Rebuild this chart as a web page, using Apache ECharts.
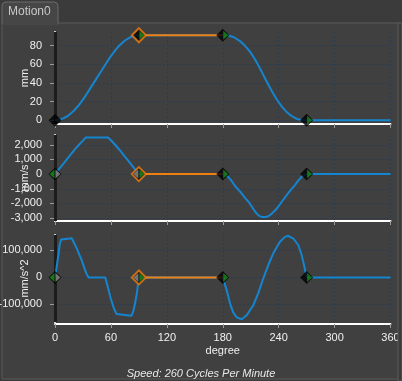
<!DOCTYPE html>
<html><head><meta charset="utf-8">
<script src="https://cdn.jsdelivr.net/npm/echarts@6/dist/echarts.min.js"></script>
<style>html,body{margin:0;padding:0;background:#3b3b3b;}#c{width:402px;height:381px;}</style>
</head><body><div id="c"></div>
<script>
// ---------- data ----------
const degTicks = [0, 60, 120, 180, 240, 300, 360];
const keyDeg = [0, 90, 180, 270];
const keyPos = [0, 91, 91, 0];
const keyVel = [0, 0, 0, 0];
const keyAcc = [0, 0, 0, 0];

const posDeg = [0,5,10,15,20,25,30,33,40,45,50,57,60,65,68,70,75,80,85,90,
  180,186,192,198.5,203,209,213,216.4,219,222,226,229,233,238,243,248.6,253,257.5,261,264.7,270,360];
const posVal = [0,0.6,2.5,5.6,9.9,15.5,22.1,26.6,37.6,45.4,53.2,64.2,68.7,75.4,78.9,81.0,85.4,88.5,90.4,91,
  91,90.7,88.9,84.8,80.7,73.7,67.8,62.0,57.3,51.5,43.7,38.0,30.6,22.2,15.1,8.8,5.2,2.4,1.0,0.24,0,0];

const velDeg = [0,5,10,15,20,22.5,25,30,33,57,60,65,68,70,75,80,85,90,
  180,183,186,189,192,195,198.5,203,209,213,216.4,219,222,226,229,233,238,243,248.6,253,257.5,261,264.7,267,270,360];
const velVal = [0,400,790,1190,1580,1780,1950,2290,2500,2500,2310,1970,1750,1600,1200,800,400,0,
  0,-60,-200,-420,-700,-950,-1180,-1550,-2000,-2400,-2690,-2850,-2920,-2920,-2880,-2680,-2350,-1920,-1440,-1080,-750,-450,-180,-60,0,0];

const accDeg = [0,1,2,3.5,5,6.5,8,18,20,23,26,29,32,34,36,54,57,60,63,66,68,82,84,86,88,89.3,90,
  180,184.2,187.8,191.3,195,200.3,205.7,212.8,218,223.5,228.9,234.2,241.4,246.8,250.3,255.7,261,264.7,267.2,270,360];
const accVal = [0,20000,45000,80000,120000,140000,145000,145000,138000,110000,85000,60000,30000,12000,0,0,-40000,-80000,-113000,-135000,-142000,-142000,-125000,-95000,-55000,-15000,0,
  0,-47000,-96000,-130000,-148000,-155000,-140000,-103000,-59000,-4000,46000,89000,132000,150000,154000,144000,120000,83000,46000,0,0];

const posTicks = [0, 20, 40, 60, 80];
const velTicks = [-3000, -2000, -1000, 0, 1000, 2000];
const accTicks = [-100000, 0, 100000];
const axisNames = ['mm', 'mm/s', 'mm/s^2'];
const xName = 'degree';
const speedText = 'Speed: 260 Cycles Per Minute';
const tabText = 'Motion0';

// ---------- chart ----------
const FONT = '"Liberation Sans", Arial, sans-serif';
const BLUE = '#1585d0', ORANGE = '#f07f12', GREEN = '#1d8c1d', GRAY = '#8e8e8e';
const GRIDC = '#2c3c50';
const zip = (a, b) => a.map((v, i) => [v, b[i]]);

const panels = [
  {deg: posDeg, val: posVal, key: keyPos, ticks: posTicks, min: -4, max: 94.5, top: 32, h: 92, xoff: 0,
   gR: [1,2,3], gL: [], yR: [], yL: []},
  {deg: velDeg, val: velVal, key: keyVel, ticks: velTicks, min: -3200, max: 2670, top: 135, h: 86, xoff: 0,
   gR: [1,2,3], gL: [0], yR: [0], yL: [1]},
  {deg: accDeg, val: accVal, key: keyAcc, ticks: accTicks, min: -165000, max: 157000, top: 235, h: 87, xoff: 2,
   gR: [1,2,3], gL: [0], yR: [0], yL: [1]}
];

const grid = [], xAxis = [], yAxis = [], series = [];
const triR = 'path://M0,0L1,1L0,2Z', triL = 'path://M1,0L0,1L1,2Z';

panels.forEach((p, i) => {
  grid.push({left: 55, width: 335.5, top: p.top, height: p.h, containLabel: false, outerBoundsMode: 'none'});
  xAxis.push({
    type: 'value', gridIndex: i, min: 0, max: 360, interval: 60, offset: p.xoff,
    name: i === 2 ? xName : '', nameLocation: 'middle', nameGap: 21, nameMoveOverlap: false,
    nameTextStyle: {color: '#f0f0f0', fontSize: 11, fontFamily: FONT},
    axisLine: {show: true, onZero: false, lineStyle: {color: '#ffffff', width: 2}},
    axisTick: {show: true, length: 4, lineStyle: {color: '#9a9a9a', width: 1}},
    axisLabel: {show: i === 2, color: '#f0f0f0', fontSize: 11, fontFamily: FONT, margin: 8,
      customValues: degTicks},
    splitLine: {show: true, lineStyle: {color: GRIDC, type: [2, 2], width: 1}}
  });
  yAxis.push({
    type: 'value', gridIndex: i, min: p.min, max: p.max, offset: 5,
    name: axisNames[i], nameLocation: 'middle', nameGap: 20, nameMoveOverlap: false,
    nameTextStyle: {color: '#f0f0f0', fontSize: 11, fontFamily: FONT},
    axisLine: {show: true, lineStyle: {color: '#ffffff', width: 2}},
    axisTick: {show: true, length: 5, customValues: p.ticks, lineStyle: {color: '#9a9a9a', width: 1}},
    axisLabel: {color: '#f0f0f0', fontSize: 11, fontFamily: FONT, margin: 8, customValues: p.ticks,
      formatter: v => Number(v).toLocaleString('en-US')},
    splitLine: {show: false}
  });
  // grid lines + cursor
  series.push({
    type: 'line', xAxisIndex: i, yAxisIndex: i, data: [], z: 1, silent: true,
    markLine: {silent: true, z: 1, symbol: 'none', label: {show: false}, animation: false,
      lineStyle: {color: GRIDC, type: [2, 2], width: 1},
      data: p.ticks.map(v => ({yAxis: v})).concat([{xAxis: 0, lineStyle: {color: '#1c1c1c', width: 3, type: 'solid'}}])}
  });
  series.push({
    type: 'line', xAxisIndex: i, yAxisIndex: i, data: zip(p.deg, p.val), showSymbol: false, z: 3,
    lineStyle: {color: BLUE, width: 2}, itemStyle: {color: BLUE}
  });
  series.push({
    type: 'line', xAxisIndex: i, yAxisIndex: i, data: [[keyDeg[1], p.key[1]], [keyDeg[2], p.key[2]]],
    showSymbol: false, z: 4, lineStyle: {color: ORANGE, width: 2}, itemStyle: {color: ORANGE}
  });
  series.push({
    type: 'scatter', xAxisIndex: i, yAxisIndex: i, z: 5, symbol: 'diamond', symbolSize: 13,
    itemStyle: {color: '#000000'},
    data: keyDeg.map((d, k) => k === 1
      ? {value: [d, p.key[k]], symbolSize: 14, itemStyle: {color: '#000', borderColor: ORANGE, borderWidth: 2}}
      : {value: [d, p.key[k]]})
  });
  const tri = (idx, sym, off, col) => ({
    type: 'scatter', xAxisIndex: i, yAxisIndex: i, z: 6, symbol: sym, symbolSize: [5, 9],
    symbolOffset: [off, 0], itemStyle: {color: col},
    data: idx.map(k => [keyDeg[k], p.key[k]])
  });
  series.push(tri(p.gR, triR, 3, GREEN));
  series.push(tri(p.gL, triL, -3, GREEN));
  series.push(tri(p.yR, triR, 3, GRAY));
  series.push(tri(p.yL, triL, -3, GRAY));
});

const chart = echarts.init(document.getElementById('c'), null, {renderer: 'canvas'});
chart.setOption({
  animation: false,
  backgroundColor: '#3b3b3b',
  textStyle: {fontFamily: FONT},
  title: {text: speedText, left: 'center', top: 363,
    textStyle: {color: '#e8e8e8', fontSize: 11, fontStyle: 'italic', fontWeight: 'normal', fontFamily: FONT}},
  graphic: [
    {type: 'rect', z: -10, shape: {x: 2, y: 23, width: 397, height: 356},
      style: {fill: '#404040', stroke: '#5a5a5a', lineWidth: 1}},
    {type: 'rect', z: -9, shape: {x: 2, y: 2, width: 56, height: 22, r: [4, 4, 0, 0]},
      style: {fill: '#464646', stroke: '#6a6a6a', lineWidth: 1}},
    {type: 'rect', z: -8, shape: {x: 2.5, y: 22, width: 55, height: 3}, style: {fill: '#464646'}},
    {type: 'text', z: -7, x: 8, y: 6, style: {text: tabText, fill: '#c8c8c8', font: '12px ' + FONT}},
    {type: 'rect', z: 100, shape: {x: 398, y: 23, width: 4, height: 358}, style: {fill: '#3b3b3b', stroke: '#5a5a5a', lineWidth: 1}}
  ],
  grid, xAxis, yAxis, series
});
</script></body></html>
